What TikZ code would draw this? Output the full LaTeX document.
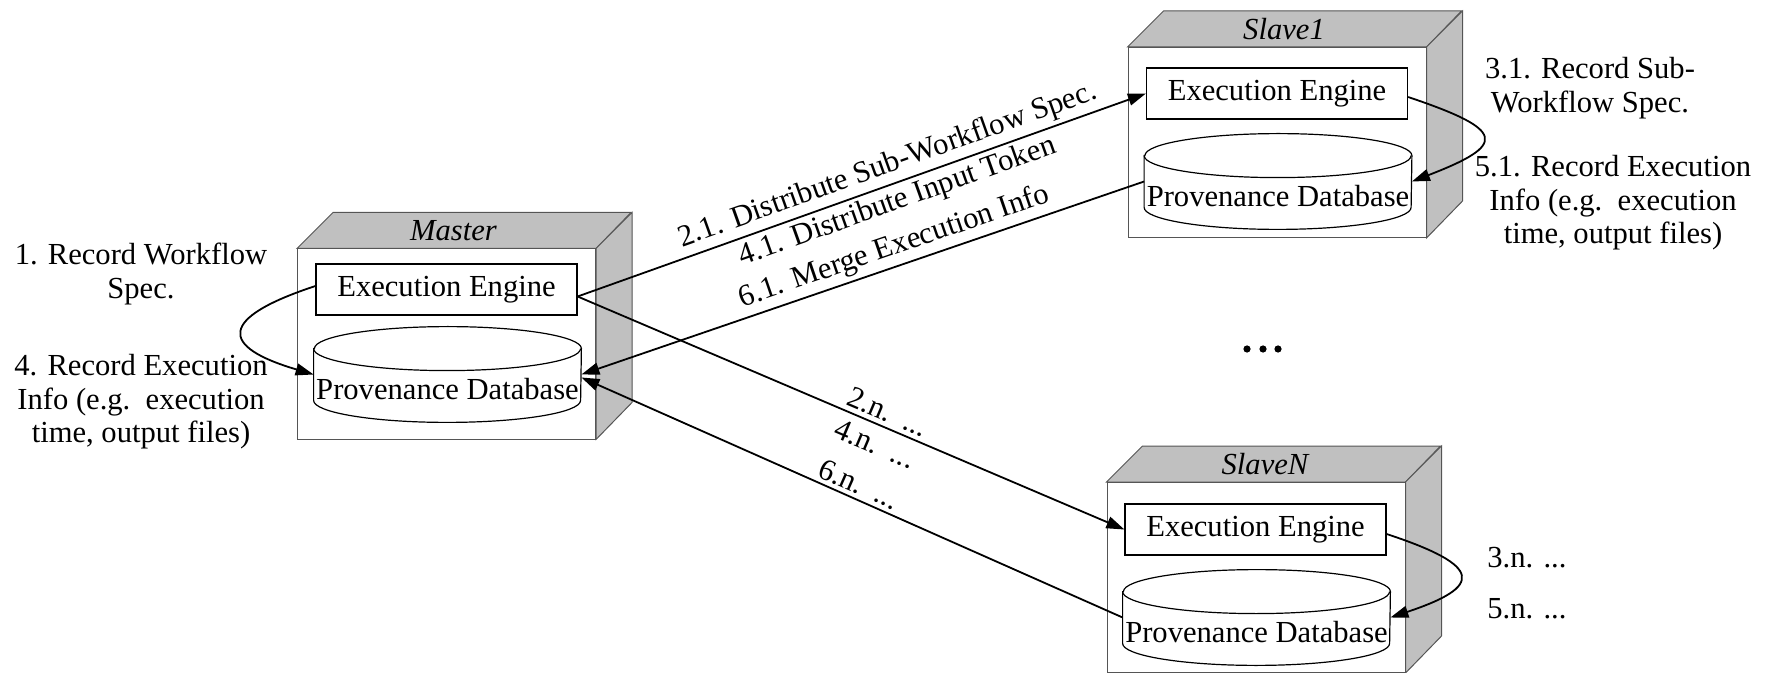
\documentclass[tikz,border=0pt]{standalone}
\usepackage{fontspec}
\setmainfont{Liberation Serif}
\usetikzlibrary{arrows.meta,calc}
\definecolor{facegray}{RGB}{192,192,192}
\definecolor{edgegray}{RGB}{85,85,85}
\newcommand\boxfaces[1]{%
  \filldraw[fill=facegray,draw=edgegray,line width=0.5pt] (#1.north west) -- ++(36,-36) -- ++(298,0) -- (#1.north east) -- cycle;
  \filldraw[fill=facegray,draw=edgegray,line width=0.5pt] (#1.north east) -- ++(36,-36) -- ++(0,190) -- (#1.south east) -- cycle;
}
\newcommand\dbcyl[1]{%
  \filldraw[fill=white,draw=black,line width=0.6pt] ([yshift=-11pt]#1.north west) -- ([yshift=11pt]#1.south west)
     arc[start angle=180,end angle=360,x radius=66.75pt,y radius=11pt]
     -- ([yshift=-11pt]#1.north east)
     arc[start angle=0,end angle=180,x radius=66.75pt,y radius=11pt] -- cycle;
  \draw[line width=0.6pt] ([yshift=-11pt]#1.north west) arc[start angle=180,end angle=360,x radius=66.75pt,y radius=11pt];
}
\begin{document}
\begin{tikzpicture}[x=0.5pt,y=-0.5pt,
  font=\fontsize{15.3pt}{16.8pt}\selectfont,
  front/.style={draw=edgegray,line width=0.5pt,fill=white,minimum width=149pt,minimum height=95pt,inner sep=0pt},
  engine/.style={draw=black,line width=0.6pt,fill=white,minimum width=130.5pt,minimum height=25.5pt,inner sep=0pt},
  dbbox/.style={minimum width=133.5pt,minimum height=47.5pt,inner sep=0pt,text height=35pt,text depth=10pt},
  title/.style={font=\fontsize{15.3pt}{16.8pt}\selectfont\itshape,inner sep=0pt},
  conn/.style={line width=0.9pt,-{Triangle[length=9pt,width=6pt]}},
  lbl/.style={align=center,inner sep=0pt,anchor=base},
  elbl/.style={sloped,inner sep=2pt},
]
\useasboundingbox (0,0) rectangle (1766,673);

% Master
\node[front] (m) at (446.5,344) {};
\boxfaces{m}
\node[front] at (m) {};
\node[title] (mt) at ($(m.north)+(7,-18)$) {Master};
\node[engine] (meng) at (446.5,289.5) {Execution Engine};
\node[dbbox] (mdb) at (447.5,374.5) {};
\dbcyl{mdb}
\node[dbbox] at (mdb) {Provenance Database};

% Slave1
\node[front] (s1) at (1277,142.5) {};
\boxfaces{s1}
\node[front] at (s1) {};
\node[title] (s1t) at ($(s1.north)+(7,-18)$) {Slave1};
\node[engine] (s1eng) at (1277,93.5) {Execution Engine};
\node[dbbox] (s1db) at (1278,181.5) {};
\dbcyl{s1db}
\node[dbbox] at (s1db) {Provenance Database};

% SlaveN
\node[front] (sn) at (1256,577.5) {};
\boxfaces{sn}
\node[front] at (sn) {};
\node[title] (snt) at ($(sn.north)+(9,-18)$) {SlaveN};
\node[engine] (sneng) at (1255.5,529.5) {Execution Engine};
\node[dbbox] (sndb) at (1256.5,617.5) {};
\dbcyl{sndb}
\node[dbbox] at (sndb) {Provenance Database};

% side labels (anchor = baseline of last line)
\node[lbl] (l1) at (141,298.6) {1. Record Workflow\\Spec.};
\node[lbl] (l4) at (141,443) {4. Record Execution\\Info (e.g.\ \ execution\\time, output files)};
\node[lbl] (l31) at (1590,112.6) {3.1. Record Sub-\\Workflow Spec.};
\node[lbl] (l51) at (1613,244) {5.1. Record Execution\\Info (e.g.\ \ execution\\time, output files)};
\node[inner sep=0pt,anchor=base west] (l3n) at (1487,567) {3.n. ...};
\node[inner sep=0pt,anchor=base west] (l5n) at (1487,618) {5.n. ...};

% dots
\fill (1247,349) circle[radius=1.8pt];
\fill (1263,349) circle[radius=1.8pt];
\fill (1278,349) circle[radius=1.8pt];

% self loops
\draw[conn] ([yshift=1.75pt]meng.west) .. controls +(-97,32) and +(-95,-28) .. (mdb.west);
\draw[conn] ([yshift=-1.75pt]s1eng.east) .. controls +(98,33) and +(96,-37) .. (s1db.east);
\draw[conn] ([yshift=-2.25pt]sneng.east) .. controls +(97,32) and +(93,-31) .. (sndb.east);

% master <-> slaves
\draw[conn] ([yshift=-3.5pt]meng.east) --
  node[elbl,above,pos=0.557] {2.1. Distribute Sub-Workflow Spec.}
  node[elbl,below,pos=0.552] {4.1. Distribute Input Token} (s1eng.west);
\draw[conn] (s1db.west) --
  node[elbl,above,pos=0.433] {6.1. Merge Execution Info} (mdb.east);
\draw[conn] ([yshift=-3.5pt]meng.east) --
  node[elbl,above,pos=0.557] {2.n.\ \ ...}
  node[elbl,below,pos=0.558,inner sep=4pt] {4.n.\ \ ...} (sneng.west);
\draw[conn] (sndb.west) --
  node[elbl,above,pos=0.498] {6.n.\ \ ...} ([yshift=-1.5pt]mdb.east);
\end{tikzpicture}
\end{document}
